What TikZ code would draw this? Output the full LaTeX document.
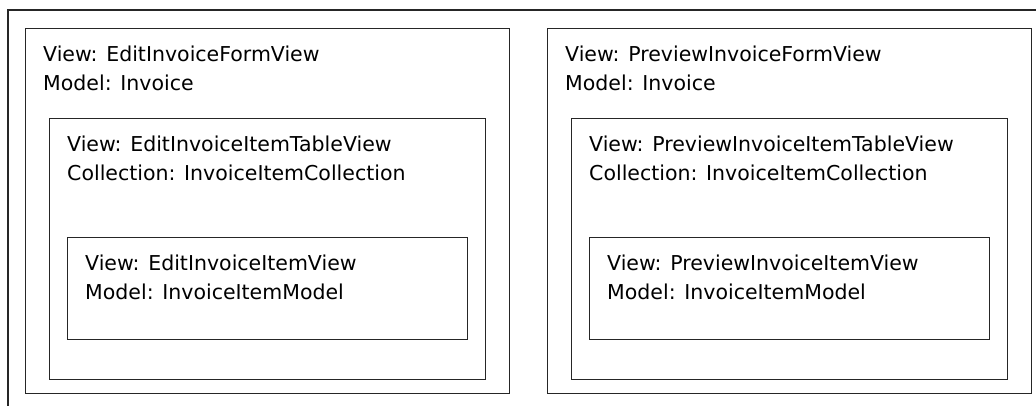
\documentclass[tikz,border=0pt]{standalone}
\usepackage{fontspec}
\setmainfont{DejaVu Sans}
\usetikzlibrary{positioning}

\tikzset{
  viewbox/.style={draw=black!85, line width=1.3pt, rectangle, inner sep=0pt, anchor=north west},
  viewtext/.style={anchor=north west, inner sep=0pt, align=left,
    font=\fontsize{20.5}{29}\selectfont}
}

\begin{document}
\begin{tikzpicture}[x=1pt,y=-1pt]
  \useasboundingbox (0,0) rectangle (1036,406);

  % Outer frame: only its top and left edges are in the picture
  \coordinate (frameNE) at (1036,10);
  \coordinate (frameNW) at (8,10);
  \coordinate (frameSW) at (8,406);
  \draw [black!85, line width=1.3pt] (frameNE) -- (frameNW) -- (frameSW);

  % One column per form: form view > table view > item view
  \foreach \side/\x in {Edit/25, Preview/547}{%
    \node [viewbox, minimum width=484pt, minimum height=365pt] (form\side) at (\x,28) {};
    \node [viewtext, below right=18pt and 18pt of form\side.north west] (form\side-text)
      {View: \side{}InvoiceFormView\\Model: Invoice};

    \node [viewbox, minimum width=436pt, minimum height=261pt,
      below right=90pt and 24pt of form\side.north west] (table\side) {};
    \node [viewtext, below right=18pt and 18pt of table\side.north west] (table\side-text)
      {View: \side{}InvoiceItemTableView\\Collection: InvoiceItemCollection};

    \node [viewbox, minimum width=400pt, minimum height=102pt,
      below right=119pt and 18pt of table\side.north west] (item\side) {};
    \node [viewtext, below right=18pt and 18pt of item\side.north west] (item\side-text)
      {View: \side{}InvoiceItemView\\Model: InvoiceItemModel};
  }
\end{tikzpicture}
\end{document}
